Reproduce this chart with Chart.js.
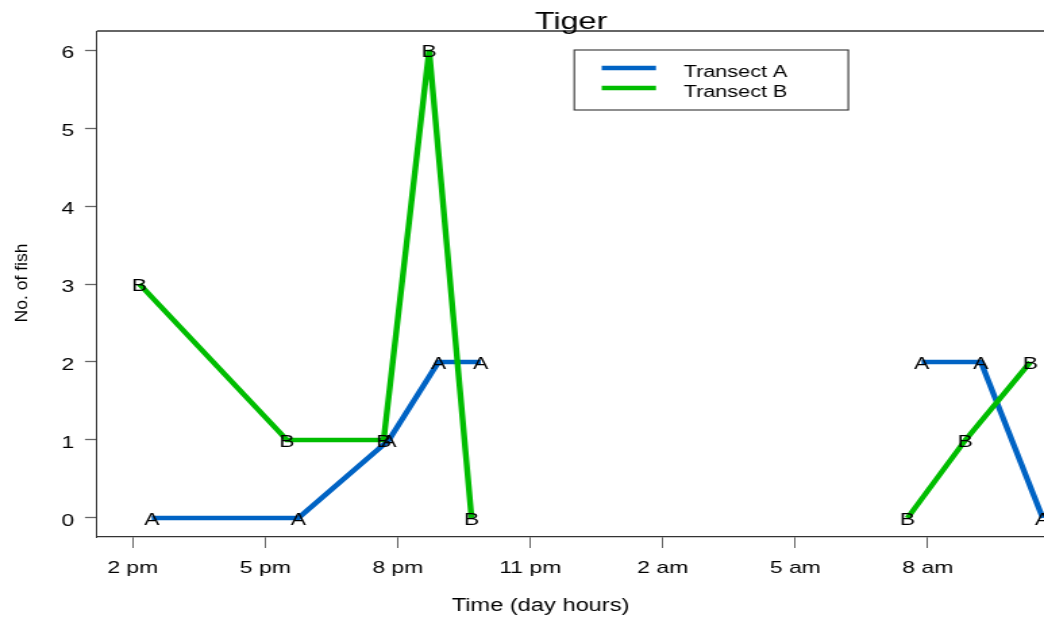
<!DOCTYPE html>
<html>
<head>
<meta charset="utf-8">
<title>Tiger</title>
<script src="https://cdn.jsdelivr.net/npm/chart.js@4.4.1/dist/chart.umd.min.js"></script>
<style>
  html, body { margin: 0; padding: 0; background: #ffffff; overflow: hidden; }
  /* the drawing is widened horizontally, like the wide device it was made on */
  #c { display: block; width: 1044px !important; height: 617px !important; }
</style>
</head>
<body>
<canvas id="c" width="773" height="617" style="width:1044px;height:617px;"></canvas>
<script>
// Sampling times in hours from midnight of the first day (24+ = next morning)
const timeA = [14.43, 17.75, 19.80, 20.92, 21.88, 31.86, 33.20, 34.60];
const fishA = [0, 0, 1, 2, 2, 2, 2, 0];
const timeB = [14.15, 17.49, 19.68, 20.71, 21.67, 31.54, 32.85, 34.32];
const fishB = [3, 1, 1, 6, 0, 0, 1, 2];

const seriesNames = ['Transect A', 'Transect B'];
const seriesLetters = ['A', 'B'];
const seriesColors = ['#0063c4', '#00bd00'];

const xTickHours = [14, 17, 20, 23, 26, 29, 32];
const xTickLabels = ['2 pm', '5 pm', '8 pm', '11 pm', '2 am', '5 am', '8 am'];
const yTickValues = [0, 1, 2, 3, 4, 5, 6];

const STRETCH = 1044 / 773;           // horizontal widening of the canvas
const FONT = '"Liberation Sans", Arial, Helvetica, sans-serif';

const toPoints = (xs, ys) => xs.map((x, i) => ({ x: x, y: ys[i] }));

// Title, axis titles, plot frame, legend box and letter markers
const decorations = {
  id: 'decorations',
  afterDatasetsDraw(chart) {
    const ctx = chart.ctx;
    ctx.save();

    // letter markers on every sample
    ctx.fillStyle = '#000';
    ctx.font = '17px ' + FONT;
    ctx.textAlign = 'center';
    ctx.textBaseline = 'middle';
    chart.data.datasets.forEach((ds, di) => {
      const meta = chart.getDatasetMeta(di);
      meta.data.forEach(pt => {
        ctx.fillText(ds.letter, pt.x, pt.y + 2.5);
      });
    });
    ctx.restore();
  },
  afterDraw(chart) {
    const ctx = chart.ctx;
    const area = chart.chartArea;
    ctx.save();

    // top edge of the plot frame
    ctx.strokeStyle = '#333';
    ctx.lineWidth = 1.3;
    ctx.beginPath();
    ctx.moveTo(area.left, area.top);
    ctx.lineTo(area.right, area.top);
    ctx.stroke();

    // main title
    ctx.fillStyle = '#000';
    ctx.font = '24px ' + FONT;
    ctx.textAlign = 'center';
    ctx.textBaseline = 'alphabetic';
    ctx.fillText('Tiger', 422.8, 29);

    // x axis title
    ctx.font = '17.5px ' + FONT;
    ctx.fillText('Time (day hours)', 400.2, 611);

    // y axis title, kept narrow so the rotated glyphs are not widened
    ctx.save();
    ctx.translate(19.8, 283);
    ctx.scale(1 / STRETCH, 1);
    ctx.rotate(-Math.PI / 2);
    ctx.font = '17.5px ' + FONT;
    ctx.fillText('No. of fish', 0, 0);
    ctx.restore();

    // legend box
    ctx.strokeStyle = '#333';
    ctx.lineWidth = 1.1;
    ctx.strokeRect(425.2, 50, 202.9, 60);
    ctx.font = '16px ' + FONT;
    ctx.textAlign = 'left';
    chart.data.datasets.forEach((ds, i) => {
      const y = 68 + i * 20;
      ctx.strokeStyle = ds.borderColor;
      ctx.lineWidth = 4.5;
      ctx.beginPath();
      ctx.moveTo(445.5, y);
      ctx.lineTo(485.7, y);
      ctx.stroke();
      ctx.fillStyle = '#000';
      ctx.fillText(ds.label, 506.2, y + 8.5);
    });

    ctx.restore();
  }
};

new Chart(document.getElementById('c'), {
  type: 'line',
  data: {
    datasets: [
      {
        label: seriesNames[0],
        letter: seriesLetters[0],
        data: toPoints(timeA, fishA),
        borderColor: seriesColors[0],
        backgroundColor: seriesColors[0],
        borderWidth: 4.4,
        order: 1
      },
      {
        label: seriesNames[1],
        letter: seriesLetters[1],
        data: toPoints(timeB, fishB),
        borderColor: seriesColors[1],
        backgroundColor: seriesColors[1],
        borderWidth: 4.4,
        order: 0
      }
    ]
  },
  options: {
    responsive: false,
    animation: false,
    devicePixelRatio: 1,
    spanGaps: 4,                // no sampling overnight: break lines across long gaps
    elements: {
      point: { radius: 0, hoverRadius: 0 },
      line: { tension: 0, borderCapStyle: 'butt', borderJoinStyle: 'miter' }
    },
    layout: { padding: { top: 31, right: 0, bottom: 0, left: 0 } },
    plugins: {
      legend: { display: false },
      title: { display: false },
      tooltip: { enabled: false }
    },
    scales: {
      x: {
        type: 'linear',
        min: 13.19,
        max: 34.63,
        afterBuildTicks: s => { s.ticks = xTickHours.map(v => ({ value: v })); },
        afterFit: s => { s.height = 80; },
        ticks: {
          autoSkip: false,
          maxRotation: 0,
          padding: 10,
          color: '#000',
          font: { family: FONT, size: 17 },
          callback: v => xTickLabels[xTickHours.indexOf(v)]
        },
        grid: { drawOnChartArea: false, drawTicks: true, tickLength: 11, color: '#666', tickWidth: 1 },
        border: { display: true, color: '#333', width: 1.3 }
      },
      y: {
        min: -0.2436,
        max: 6.2436,
        afterBuildTicks: s => { s.ticks = yTickValues.map(v => ({ value: v })); },
        afterFit: s => { s.width = 71.8; },
        ticks: {
          padding: 8,
          labelOffset: 3,
          color: '#000',
          font: { family: FONT, size: 17 },
          callback: v => String(v)
        },
        grid: { drawOnChartArea: false, drawTicks: true, tickLength: 8.9, color: '#666', tickWidth: 1.3 },
        border: { display: true, color: '#333', width: 1 }
      }
    }
  },
  plugins: [decorations]
});
</script>
</body>
</html>
